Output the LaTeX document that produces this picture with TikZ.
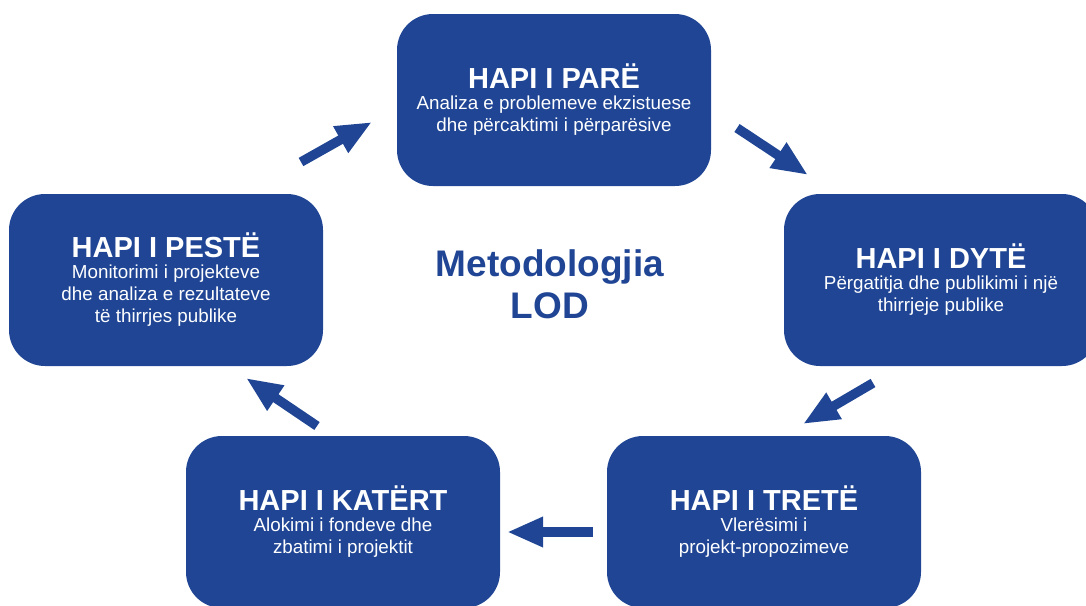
\documentclass[tikz,border=0pt]{standalone}
\usepackage{fontspec}
\setmainfont{Liberation Sans}
\usetikzlibrary{arrows.meta}
\definecolor{lodblue}{HTML}{1F4594}
\newcommand{\hapititle}[1]{{\fontsize{29}{30}\selectfont\bfseries #1}}

\begin{document}
\begin{tikzpicture}[x=1pt,y=-1pt,
  stepbox/.style={fill=lodblue, rounded corners=36pt, minimum width=314pt, minimum height=172pt,
    inner sep=0pt, text=white, align=center, font=\fontsize{18.8}{22}\selectfont},
  flow/.style={draw=lodblue, line width=9.5pt, -{Triangle[length=36pt,width=28pt]}}]
\useasboundingbox (0,0) rectangle (1086,605);
\clip (0,0) rectangle (1086,605);

% Steps
\node[stepbox] (pare) at (554,100) {\hapititle{HAPI I PARË}\\[-1pt]Analiza e problemeve ekzistuese\\dhe përcaktimi i përparësive};
\node[stepbox] (dyte) at (941,280) {\hapititle{HAPI I DYTË}\\[-1pt]Përgatitja dhe publikimi i një\\thirrjeje publike};
\node[stepbox] (trete) at (764,522) {\hapititle{HAPI I TRETË}\\[-1pt]Vlerësimi i\\projekt-propozimeve};
\node[stepbox] (katert) at (343,522) {\hapititle{HAPI I KATËRT}\\[-1pt]Alokimi i fondeve dhe\\zbatimi i projektit};
\node[stepbox] (peste) at (166,280) {\hapititle{HAPI I PESTË}\\[-1pt]Monitorimi i projekteve\\dhe analiza e rezultateve\\të thirrjes publike};

% Centre label
\node[text=lodblue, align=center, font=\fontsize{37}{42}\selectfont\bfseries] (lod) at (550,284) {Metodologjia\\LOD};

% Arrows between the steps
\coordinate (f1a) at (301,162); \coordinate (f1b) at (372,122);
\coordinate (f2a) at (737,128); \coordinate (f2b) at (808,175);
\coordinate (f3a) at (873,383); \coordinate (f3b) at (803,424);
\coordinate (f4a) at (593,532); \coordinate (f4b) at (507,532);
\coordinate (f5a) at (317,426); \coordinate (f5b) at (246,378);
\foreach \i in {1,...,5}
  \draw[flow] (f\i a) -- (f\i b);
\end{tikzpicture}
\end{document}
